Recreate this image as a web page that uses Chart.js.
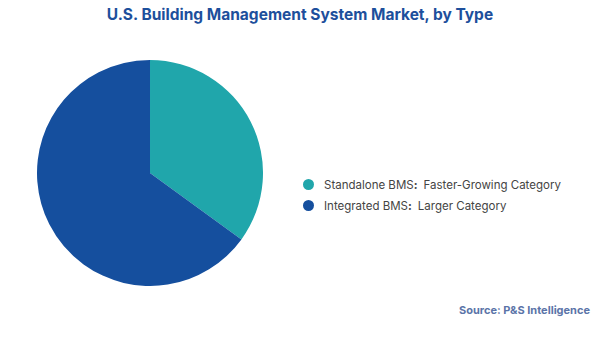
<!DOCTYPE html>
<html>
<head>
<meta charset="utf-8">
<script src="https://cdn.jsdelivr.net/npm/chart.js@4.4.1/dist/chart.umd.min.js"></script>
<style>
  html, body { margin: 0; padding: 0; background: #fff; }
  #wrap { position: relative; width: 600px; height: 337px; overflow: hidden; font-family: Inter, "Noto Sans", sans-serif; }
  #title { position: absolute; left: 0; width: 600px; top: 5px; text-align: center; font-size: 15.5px; font-weight: 700; color: #1d4f9c; }
  #pie { position: absolute; left: 37px; top: 60px; }
  #legend { position: absolute; left: 303px; top: 174px; font-size: 11.5px; color: #444; }
  .item { display: flex; align-items: center; height: 21px; }
  .dot { width: 11px; height: 11px; border-radius: 50%; margin-right: 10px; }
  .item b { font-weight: 700; margin-right: 6px; }
  #source { position: absolute; right: 10px; top: 303px; font-size: 11px; font-weight: 700; color: #5b74a8; }
</style>
</head>
<body>
<div id="wrap">
  <div id="title">U.S. Building Management System Market, by Type</div>
  <canvas id="pie" width="226" height="226"></canvas>
  <div id="legend"></div>
  <div id="source">Source: P&amp;S Intelligence</div>
</div>
<script>
  // Segment labels and shares
  const categories = ['Standalone BMS', 'Integrated BMS'];
  const notes = ['Faster-Growing Category', 'Larger Category'];
  const shares = [35, 65];
  const colors = ['#20a6ab', '#154f9e'];

  // Build legend from the same arrays
  const legend = document.getElementById('legend');
  legend.innerHTML = categories.map((cat, i) => `
    <div class="item">
      <span class="dot" style="background:${colors[i]}"></span>
      <span>${cat}<b>:</b>${notes[i]}</span>
    </div>
  `).join('');

  new Chart(document.getElementById('pie'), {
    type: 'pie',
    data: {
      labels: categories,
      datasets: [{
        data: shares,
        backgroundColor: colors,
        borderWidth: 0
      }]
    },
    options: {
      responsive: false,
      animation: false,
      layout: { padding: 0 },
      plugins: {
        legend: { display: false },
        tooltip: { enabled: false }
      }
    }
  });
</script>
</body>
</html>
